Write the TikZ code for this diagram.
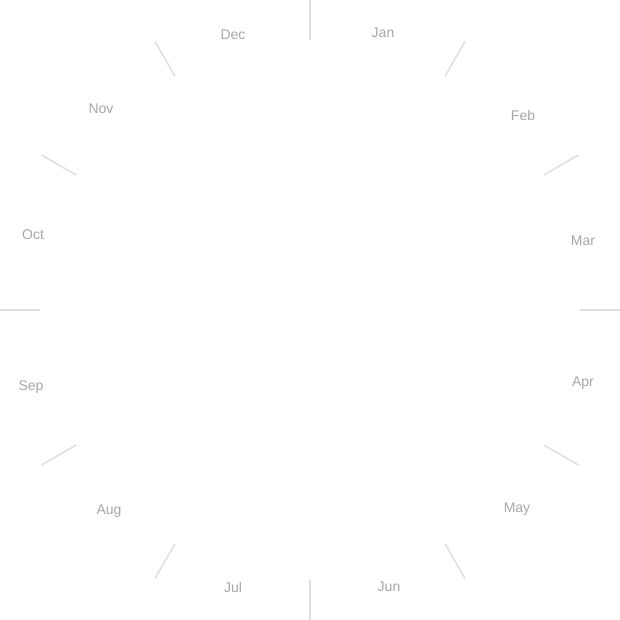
\documentclass[tikz,border=0pt]{standalone}
\usepackage{fontspec}
\setmainfont{Liberation Sans}
\begin{document}
\begin{tikzpicture}[x=1pt,y=-1pt,
  tick/.style={draw=black!13,line width=1.5pt},
  month/.style={text=black!35,font=\fontsize{14}{16}\selectfont,inner sep=0pt}]
\useasboundingbox (0,0) rectangle (620,620);
\coordinate (c) at (310,310);
\foreach \k in {0,...,11}{
  \path (c) ++({90+30*\k}:270) coordinate (i\k);
  \path (c) ++({90+30*\k}:310) coordinate (o\k);
  \draw[tick] (i\k) -- (o\k);
}
\node[month] (jan) at (383,33) {Jan};
\node[month] (feb) at (523,115) {Feb};
\node[month] (mar) at (583,241) {Mar};
\node[month] (apr) at (583,383) {Apr};
\node[month] (may) at (517,509) {May};
\node[month] (jun) at (389,587) {Jun};
\node[month] (jul) at (233,587) {Jul};
\node[month] (aug) at (109,511) {Aug};
\node[month] (sep) at (31,387) {Sep};
\node[month] (oct) at (33,235) {Oct};
\node[month] (nov) at (101,109) {Nov};
\node[month] (dec) at (233,35) {Dec};
\end{tikzpicture}
\end{document}
